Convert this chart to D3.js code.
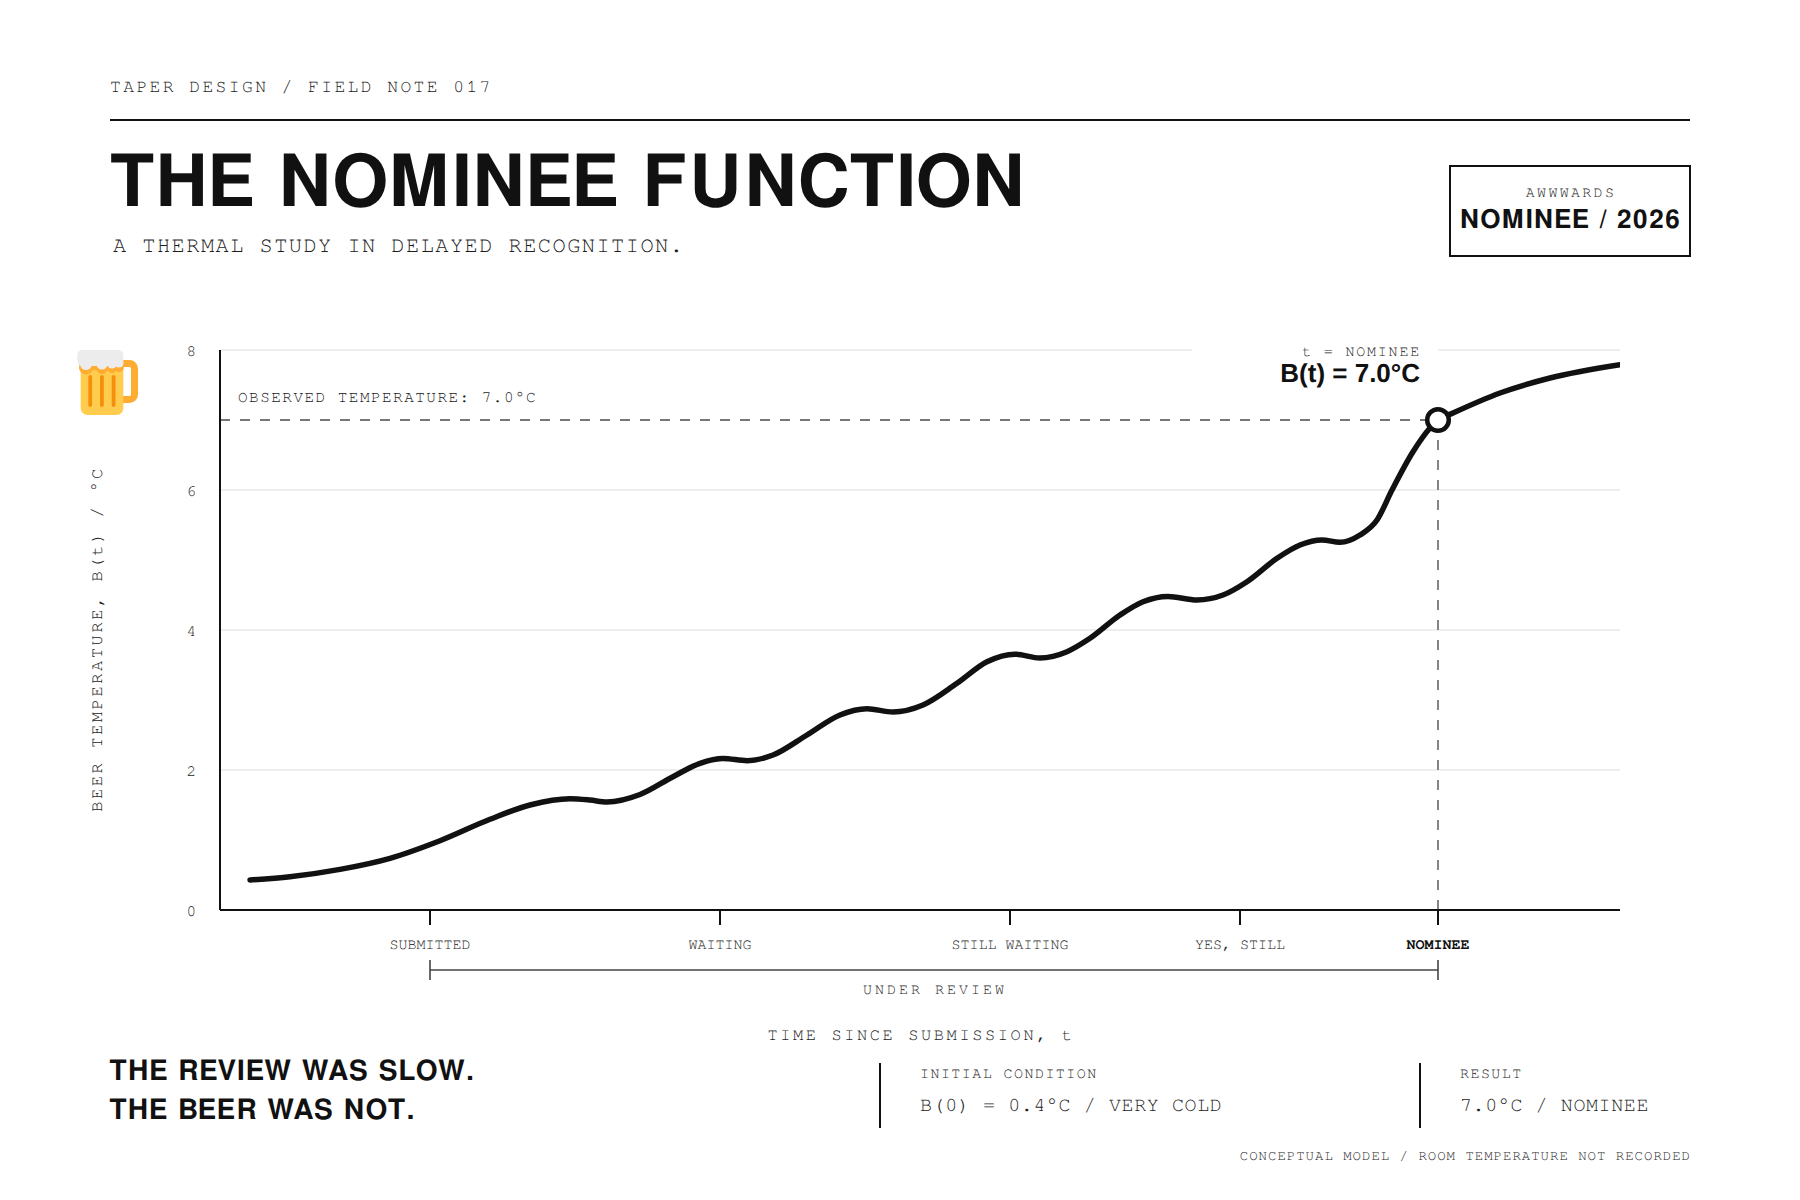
<!DOCTYPE html>
<html><head><meta charset="utf-8"><script src="https://cdn.jsdelivr.net/npm/d3@7"></script>
<style>html,body{margin:0;background:#fff}svg{display:block;text-rendering:geometricPrecision}
.m{font-family:"FreeMono","Liberation Mono",monospace}.s{font-family:"FreeSans","Liberation Sans",Arial,sans-serif;font-weight:700}.l{font-family:"Liberation Sans",Arial,sans-serif;font-weight:700}</style></head><body>
<svg id="c" width="1800" height="1200"></svg>
<script>
const timeValues=[30,70,120,170,220,270,310,350,370,387,420,453,480,503,527,553,587,620,647,673,703,737,767,795,820,847,870,900,923,948,977,1003,1027,1057,1080,1102,1120,1140,1157,1172,1193,1210,1218,1233,1280,1330,1400];
const beerValues=[0.43,0.476,0.581,0.739,0.99,1.296,1.50,1.59,1.571,1.543,1.65,1.904,2.096,2.165,2.133,2.214,2.50,2.786,2.875,2.829,2.929,3.239,3.547,3.655,3.60,3.69,3.881,4.214,4.404,4.48,4.429,4.50,4.69,5.024,5.214,5.285,5.253,5.357,5.571,6.0,6.547,6.886,7.0,7.1,7.386,7.6,7.79];
const yTicks=[0,2,4,6,8];
const stageTimes=[210,500,790,1020,1218];
const stageLabels=["SUBMITTED","WAITING","STILL WAITING","YES, STILL","NOMINEE"];
const nomineeTime=1218, nomineeValue=7.0;

const svg=d3.select("#c");
const x=d3.scaleLinear().domain([0,1400]).range([220,1620]);
const y=d3.scaleLinear().domain([0,8]).range([910,350]);
const ink="#111", soft="#1c1c1c";
function T(str,px,py,size,ls,opt={}){
  return svg.append("text").attr("class",opt.cls||(opt.sans?"s":"m")).attr("x",px).attr("y",py)
   .attr("font-size",size).attr("letter-spacing",ls).attr("fill",opt.fill||soft)
   .attr("text-anchor",opt.anchor||"start").text(str);
}
// header
T("TAPER DESIGN / FIELD NOTE 017",110,92,18,2.4);
svg.append("line").attr("x1",110).attr("x2",1690).attr("y1",120).attr("y2",120).attr("stroke",ink).attr("stroke-width",2);
T("THE NOMINEE FUNCTION",109,206,72,1.56,{sans:1,fill:ink});
T("A THERMAL STUDY IN DELAYED RECOGNITION.",113,252,22,1.45);
svg.append("rect").attr("x",1450).attr("y",166).attr("width",240).attr("height",90).attr("fill","#fff").attr("stroke",ink).attr("stroke-width",2);
T("AWWWARDS",1571,197,15,2.3,{anchor:"middle"});
T("NOMINEE / 2026",1570.5,228,26,1.6,{sans:1,fill:ink,anchor:"middle"});
// grid
svg.append("g").selectAll("line").data(yTicks.filter(d=>d>0)).join("line")
  .attr("x1",x(0)).attr("x2",x(1400)).attr("y1",d=>y(d)).attr("y2",d=>y(d)).attr("stroke","#eee").attr("stroke-width",2);
svg.append("rect").attr("x",1192).attr("y",345).attr("width",246).attr("height",40).attr("fill","#fff");
// reference lines
svg.append("line").attr("x1",x(0)).attr("x2",x(nomineeTime)).attr("y1",y(nomineeValue)).attr("y2",y(nomineeValue)).attr("stroke","#777").attr("stroke-width",1.8).attr("stroke-dasharray","10 10");
svg.append("line").attr("x1",x(nomineeTime)).attr("x2",x(nomineeTime)).attr("y1",y(nomineeValue)).attr("y2",y(0)).attr("stroke","#777").attr("stroke-width",1.8).attr("stroke-dasharray","10 10");
// axes
const ya=svg.append("g").attr("transform",`translate(${x(0)},0)`).call(d3.axisLeft(y).offset(0).tickValues(yTicks).tickSize(0).tickPadding(24).tickSizeOuter(0).tickFormat(d3.format("d")));
ya.select(".domain").attr("stroke",ink).attr("stroke-width",2);
ya.selectAll("text").attr("class","m").attr("font-size",16).attr("fill",soft).attr("dy",6);
const xa=svg.append("g").attr("transform",`translate(0,${y(0)})`).call(d3.axisBottom(x).offset(0).tickValues(stageTimes).tickSizeInner(15).tickSizeOuter(0).tickPadding(13).tickFormat((d,i)=>stageLabels[i]));
xa.select(".domain").attr("stroke",ink).attr("stroke-width",2);
xa.selectAll("line").attr("stroke",ink).attr("stroke-width",2);
xa.selectAll("text").attr("class","m").attr("font-size",15).attr("letter-spacing",0).attr("fill",soft).attr("dy","0.71em")
  .filter((d,i)=>i===4).attr("font-weight",700).attr("fill",ink);
// curve
svg.append("clipPath").attr("id","plot").append("rect").attr("x",x(0)).attr("y",y(8)).attr("width",x(1400)-x(0)).attr("height",y(0)-y(8));
const pts=timeValues.map((t,i)=>[t,beerValues[i]]);
svg.append("path").datum(pts).attr("clip-path","url(#plot)").attr("d",d3.line().x(d=>x(d[0])).y(d=>y(d[1])).curve(d3.curveMonotoneX))
  .attr("fill","none").attr("stroke",ink).attr("stroke-width",5.5).attr("stroke-linecap","round");
svg.append("circle").attr("cx",x(nomineeTime)).attr("cy",y(nomineeValue)).attr("r",10.8).attr("fill","#fff").attr("stroke",ink).attr("stroke-width",4.5);
// labels
T("OBSERVED TEMPERATURE: 7.0°C",238,402,16,1.48);
T("t = NOMINEE",1421,356,15,1.8,{anchor:"end"});
T("B(t) = 7.0°C",1420,382,26,0,{cls:"l",fill:ink,anchor:"end"});
// beer mug glyph
const mug=svg.append("g");
mug.append("rect").attr("x",116).attr("y",363.5).attr("width",18.5).attr("height",36).attr("rx",5).attr("fill","none").attr("stroke","#ffac33").attr("stroke-width",7);
mug.append("rect").attr("x",80.7).attr("y",360).attr("width",42.6).attr("height",55).attr("rx",7).attr("fill","#ffcc4d");
mug.append("rect").attr("x",80.7).attr("y",360).attr("width",42.6).attr("height",10).attr("fill","#ffac33");
[[86,366,7],[102,367,5.6],[112,367,4.6],[119,366,4.6]].forEach(d=>mug.append("circle").attr("cx",d[0]).attr("cy",d[1]+1.5).attr("r",d[2]).attr("fill","#ffac33"));
[88.3,100,111.7].forEach(d=>mug.append("rect").attr("x",d).attr("y",375).attr("width",3.8).attr("height",32).attr("rx",1.9).attr("fill","#f4900c"));
mug.append("rect").attr("x",77.3).attr("y",350).attr("width",46).attr("height",16).attr("rx",5).attr("fill","#ececec");
[[86,364,6],[102,364,5.6],[112,364,4.6],[119,363,4.6]].forEach(d=>mug.append("circle").attr("cx",d[0]).attr("cy",d[1]).attr("r",d[2]).attr("fill","#ececec"));
svg.append("text").attr("class","m").attr("transform","translate(102,639) rotate(-90)").attr("text-anchor","middle").attr("font-size",17).attr("letter-spacing",2.6).attr("fill",soft).text("BEER TEMPERATURE, B(t) / °C");
// bracket
const bracket=svg.append("g").attr("stroke","#444").attr("stroke-width",1.6);
bracket.append("line").attr("x1",x(stageTimes[0])).attr("x2",x(nomineeTime)).attr("y1",970).attr("y2",970);
bracket.selectAll(".e").data([stageTimes[0],nomineeTime]).join("line").attr("x1",d=>x(d)).attr("x2",d=>x(d)).attr("y1",960).attr("y2",980);
T("UNDER REVIEW",935,994,15,3,{anchor:"middle"});
T("TIME SINCE SUBMISSION, t",921,1040,17,2.6,{anchor:"middle"});
// footer
T("THE REVIEW WAS SLOW.",109,1080,28,1.5,{sans:1,fill:ink});
T("THE BEER WAS NOT.",109,1119,28,1.4,{sans:1,fill:ink});
[880,1420].forEach(d=>svg.append("line").attr("x1",d).attr("x2",d).attr("y1",1063).attr("y2",1128).attr("stroke",ink).attr("stroke-width",2));
T("INITIAL CONDITION",920,1078,15,1.45);
T("B(0) = 0.4°C / VERY COLD",920,1111,20,0.6);
T("RESULT",1460,1078,15,1.45);
T("7.0°C / NOMINEE",1460,1111,20,0.6);
T("CONCEPTUAL MODEL / ROOM TEMPERATURE NOT RECORDED",1691,1160,14,1,{anchor:"end"});
</script></body></html>
